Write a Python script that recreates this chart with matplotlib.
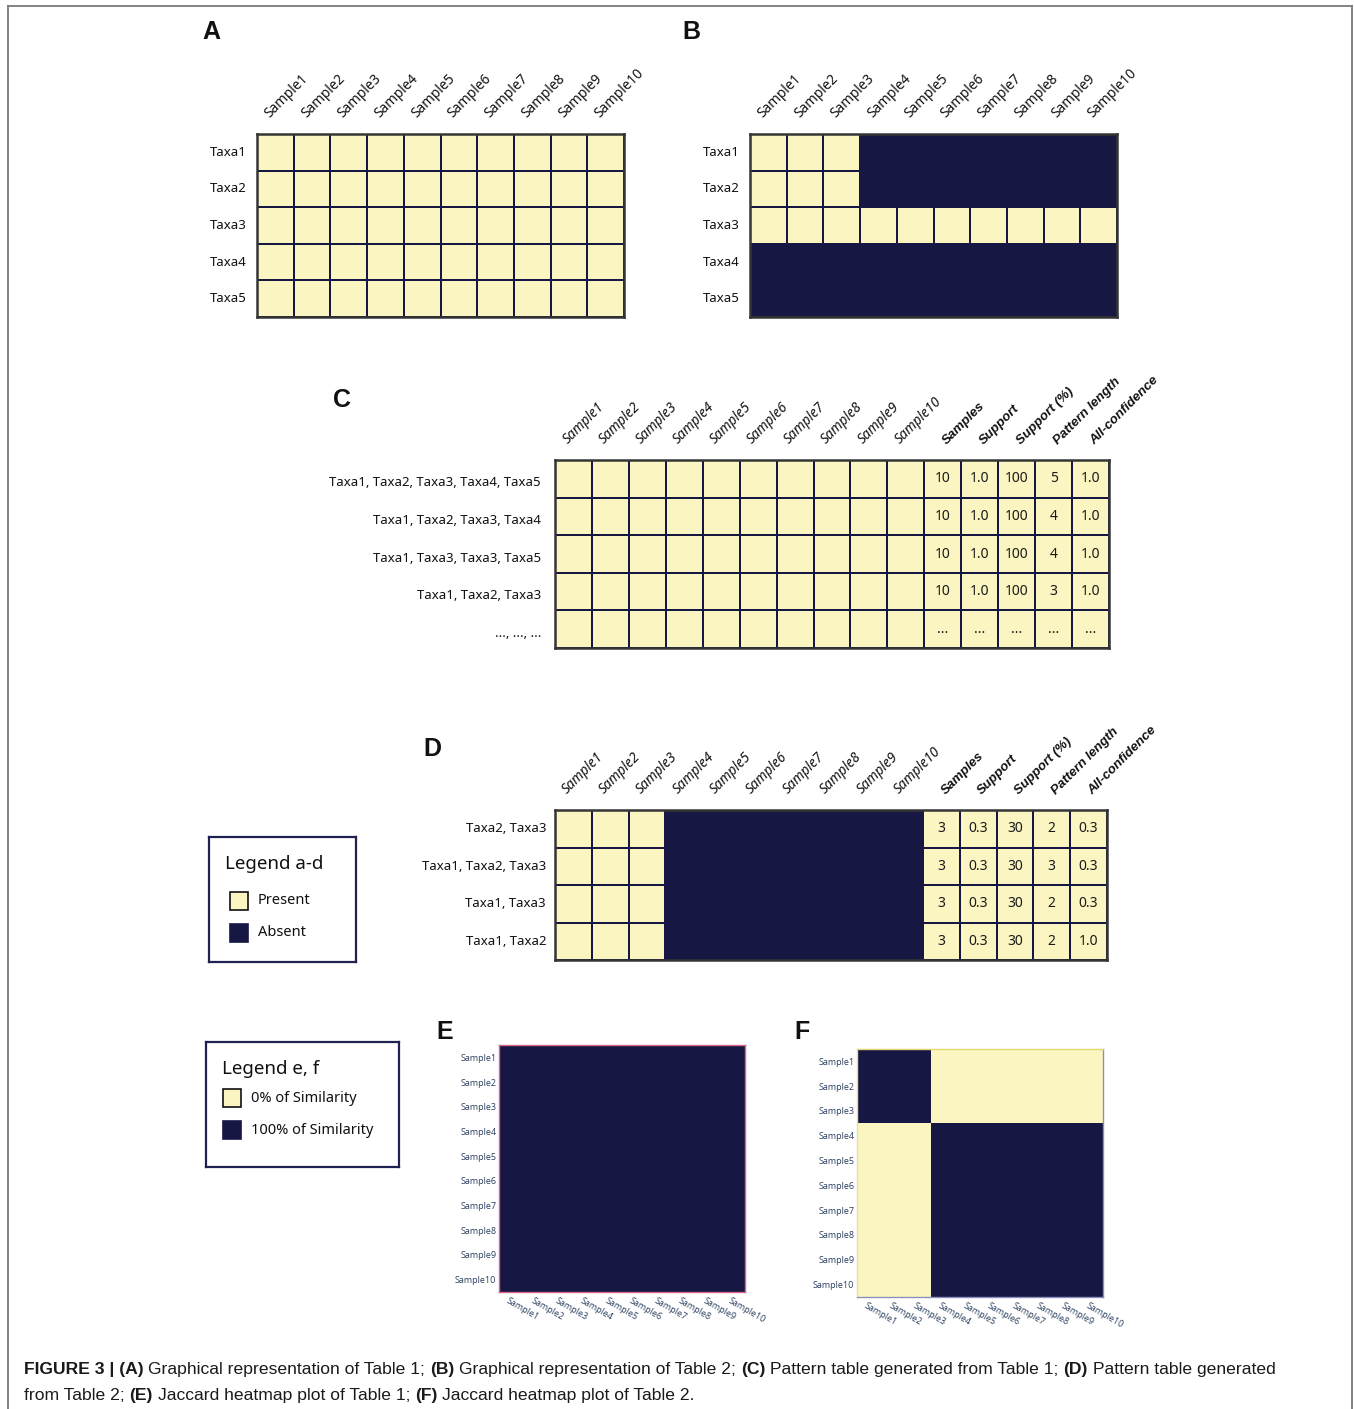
import numpy as np
import matplotlib
matplotlib.use("Agg")
import matplotlib.pyplot as plt
from matplotlib.colors import ListedColormap
from matplotlib.patches import Rectangle
from matplotlib.lines import Line2D

# ---------------------------------------------------------------- data
samples = ["Sample1", "Sample2", "Sample3", "Sample4", "Sample5",
           "Sample6", "Sample7", "Sample8", "Sample9", "Sample10"]
taxa = ["Taxa1", "Taxa2", "Taxa3", "Taxa4", "Taxa5"]

# presence (1) / absence (0) of each taxon in each sample
table1 = [[1, 1, 1, 1, 1, 1, 1, 1, 1, 1],
          [1, 1, 1, 1, 1, 1, 1, 1, 1, 1],
          [1, 1, 1, 1, 1, 1, 1, 1, 1, 1],
          [1, 1, 1, 1, 1, 1, 1, 1, 1, 1],
          [1, 1, 1, 1, 1, 1, 1, 1, 1, 1]]
table2 = [[1, 1, 1, 0, 0, 0, 0, 0, 0, 0],
          [1, 1, 1, 0, 0, 0, 0, 0, 0, 0],
          [1, 1, 1, 1, 1, 1, 1, 1, 1, 1],
          [0, 0, 0, 0, 0, 0, 0, 0, 0, 0],
          [0, 0, 0, 0, 0, 0, 0, 0, 0, 0]]

stat_headers = ["Samples", "Support", "Support (%)", "Pattern length", "All-confidence"]

# patterns mined from table 1
patterns_c = ["Taxa1, Taxa2, Taxa3, Taxa4, Taxa5", "Taxa1, Taxa2, Taxa3, Taxa4",
              "Taxa1, Taxa3, Taxa3, Taxa5", "Taxa1, Taxa2, Taxa3", "..., ..., ..."]
presence_c = [[1, 1, 1, 1, 1, 1, 1, 1, 1, 1],
              [1, 1, 1, 1, 1, 1, 1, 1, 1, 1],
              [1, 1, 1, 1, 1, 1, 1, 1, 1, 1],
              [1, 1, 1, 1, 1, 1, 1, 1, 1, 1],
              [1, 1, 1, 1, 1, 1, 1, 1, 1, 1]]
samples_c = [10, 10, 10, 10, None]
support_c = [1.0, 1.0, 1.0, 1.0, None]
support_pct_c = [100, 100, 100, 100, None]
length_c = [5, 4, 4, 3, None]
allconf_c = [1.0, 1.0, 1.0, 1.0, None]

# patterns mined from table 2
patterns_d = ["Taxa2, Taxa3", "Taxa1, Taxa2, Taxa3", "Taxa1, Taxa3", "Taxa1, Taxa2"]
presence_d = [[1, 1, 1, 0, 0, 0, 0, 0, 0, 0],
              [1, 1, 1, 0, 0, 0, 0, 0, 0, 0],
              [1, 1, 1, 0, 0, 0, 0, 0, 0, 0],
              [1, 1, 1, 0, 0, 0, 0, 0, 0, 0]]
samples_d = [3, 3, 3, 3]
support_d = [0.3, 0.3, 0.3, 0.3]
support_pct_d = [30, 30, 30, 30]
length_d = [2, 3, 2, 2]
allconf_d = [0.3, 0.3, 0.3, 1.0]

# Jaccard similarity between samples (1 = identical, 0 = disjoint)
jaccard_e = [[1] * 10 for _ in range(10)]
jaccard_f = [[1, 1, 1, 0, 0, 0, 0, 0, 0, 0],
             [1, 1, 1, 0, 0, 0, 0, 0, 0, 0],
             [1, 1, 1, 0, 0, 0, 0, 0, 0, 0],
             [0, 0, 0, 1, 1, 1, 1, 1, 1, 1],
             [0, 0, 0, 1, 1, 1, 1, 1, 1, 1],
             [0, 0, 0, 1, 1, 1, 1, 1, 1, 1],
             [0, 0, 0, 1, 1, 1, 1, 1, 1, 1],
             [0, 0, 0, 1, 1, 1, 1, 1, 1, 1],
             [0, 0, 0, 1, 1, 1, 1, 1, 1, 1],
             [0, 0, 0, 1, 1, 1, 1, 1, 1, 1]]

caption_lines = [
    [("FIGURE 3 | (A)", True), ("Graphical representation of Table 1;", False),
     ("(B)", True), ("Graphical representation of Table 2;", False),
     ("(C)", True), ("Pattern table generated from Table 1;", False),
     ("(D)", True), ("Pattern table generated", False)],
    [("from Table 2;", False), ("(E)", True), ("Jaccard heatmap plot of Table 1;", False),
     ("(F)", True), ("Jaccard heatmap plot of Table 2.", False)],
]

# ---------------------------------------------------------------- style
LIGHT = "#FBF6C1"
DARK = "#161843"
cmap = ListedColormap([LIGHT, DARK])
presence_cmap = ListedColormap([DARK, LIGHT])   # 0 = absent, 1 = present
SANS = ["Noto Sans", "DejaVu Sans"]
HEAD = ["Liberation Sans", "DejaVu Sans"]
PLOTLY_TXT = "#2a3f5f"

W, H = 1354, 1409
fig = plt.figure(figsize=(W / 100, H / 100), dpi=100)


def px_axes(x0, y0, x1, y1):
    return fig.add_axes([x0 / W, 1 - y1 / H, (x1 - x0) / W, (y1 - y0) / H])


def fig_text(x, y, s, **kw):
    return fig.text(x / W, 1 - y / H, s, **kw)


# outer frame
for xs, ys in [((8, 8), (6, H)), ((8, 1352), (6, 6)), ((1352, 1352), (6, H))]:
    fig.add_artist(Line2D([x / W for x in xs], [1 - y / H for y in ys],
                          color="#7a7a7a", lw=1.3, transform=fig.transFigure))


def fmt(v, nd):
    if v is None:
        return "..."
    return f"{v:.{nd}f}"


def grid_panel(box, presence, row_labels, col_labels, stats=None,
               row_dx=-10, row_dy=0, col_italic=False):
    ax = px_axes(*box)
    mat = np.array(presence, dtype=float)
    headers = list(col_labels)
    if stats is not None:
        mat = np.hstack([mat, np.ones((mat.shape[0], len(stats)))])
        headers = headers + stat_headers
    nrow, ncol = mat.shape
    ax.pcolormesh(np.arange(ncol + 1), np.arange(nrow + 1), mat, cmap=presence_cmap,
                  vmin=0, vmax=1, edgecolors=DARK, linewidth=1.3)
    ax.set_xlim(0, ncol)
    ax.set_ylim(nrow, 0)
    ax.set_xticks([])
    ax.set_yticks([])
    for sp in ax.spines.values():
        sp.set_color("#353535")
        sp.set_linewidth(1.8)
    for i, lbl in enumerate(row_labels):
        ax.annotate(lbl, xy=(0, i + 0.5), xytext=(row_dx, row_dy), textcoords="offset pixels",
                    ha="right", va="center", fontsize=9.5, family=SANS, color="#111")
    for j, lbl in enumerate(headers):
        if j >= len(col_labels):
            ax.annotate(lbl, xy=(j + 0.5, 0), xytext=(4, 15),
                        textcoords="offset pixels", rotation=45, rotation_mode="anchor",
                        ha="left", va="baseline", fontsize=9.5, family=HEAD, color="#111",
                        style="italic", fontweight="bold")
        else:
            ax.annotate(lbl, xy=(j + 0.5, 0), xytext=(-6, 16),
                        textcoords="offset pixels", rotation=45, rotation_mode="anchor",
                        ha="left", va="baseline", fontsize=9.8, family=SANS, color="#111",
                        style="italic" if col_italic else "normal")
    if stats is not None:
        nsamp = len(col_labels)
        for k, (vals, nd) in enumerate(stats):
            for i, v in enumerate(vals):
                ax.text(nsamp + k + 0.5, i + 0.5, fmt(v, nd), ha="center", va="center",
                        fontsize=10, family=SANS, color="#1a1a1a")
    return ax


# A and B: presence/absence of taxa
grid_panel((257, 134, 624, 317), table1, taxa, samples)
grid_panel((750, 134, 1117, 317), table2, taxa, samples)

# C and D: pattern tables
grid_panel((555, 460, 1109, 648), presence_c, patterns_c, samples,
           stats=[(samples_c, 0), (support_c, 1), (support_pct_c, 0), (length_c, 0), (allconf_c, 1)],
           row_dx=-14, row_dy=-4, col_italic=True)
grid_panel((555, 810, 1107, 960), presence_d, patterns_d, samples,
           stats=[(samples_d, 0), (support_d, 1), (support_pct_d, 0), (length_d, 0), (allconf_d, 1)],
           row_dx=-9, row_dy=0, col_italic=True)


# legends
def legend_box(box, title, items, sq_x, sq_y0, sq_dy, lbl_dx, title_y):
    x0, y0, x1, y1 = box
    ax = px_axes(*box)
    ax.set_xlim(0, x1 - x0)
    ax.set_ylim(y1 - y0, 0)
    ax.set_xticks([])
    ax.set_yticks([])
    for sp in ax.spines.values():
        sp.set_color("#1f2150")
        sp.set_linewidth(1.6)
    ax.text(16, title_y, title, ha="left", va="center", fontsize=13.5, family=SANS, color="#111")
    for k, (lbl, color) in enumerate(items):
        y = sq_y0 + k * sq_dy
        ax.add_patch(Rectangle((sq_x, y), 18, 18, facecolor=color,
                               edgecolor="#111" if color == LIGHT else color, lw=1.2))
        ax.text(sq_x + lbl_dx, y + 9, lbl, ha="left", va="center", fontsize=10.5,
                family=SANS, color="#111", fontweight="semibold")


legend_box((209, 837, 356, 962), "Legend a-d", [("Present", LIGHT), ("Absent", DARK)],
           sq_x=21, sq_y0=55, sq_dy=32, lbl_dx=28, title_y=27)
legend_box((206, 1042, 399, 1167), "Legend e, f",
           [("0% of Similarity", LIGHT), ("100% of Similarity", DARK)],
           sq_x=17, sq_y0=47, sq_dy=32, lbl_dx=28, title_y=27)


# E and F: Jaccard heatmaps
def heatmap(box, values, edge_colors):
    ax = px_axes(*box)
    mat = np.array(values, dtype=float)
    n = mat.shape[0]
    ax.pcolormesh(np.arange(n + 1), np.arange(n + 1), mat, cmap=cmap, vmin=0, vmax=1)
    ax.set_xlim(0, n)
    ax.set_ylim(n, 0)
    ax.set_xticks([])
    ax.set_yticks(np.arange(n) + 0.5)
    ax.set_yticklabels(samples, fontsize=6.5, family=["Open Sans", "DejaVu Sans"], color=PLOTLY_TXT)
    ax.tick_params(axis="y", length=0, pad=2)
    for side, c in edge_colors.items():
        ax.spines[side].set_color(c)
        ax.spines[side].set_linewidth(1.0)
    for j, lbl in enumerate(samples):
        ax.annotate(lbl, xy=(j + 0.5, n), xytext=(-2, -4), textcoords="offset pixels",
                    rotation=-30, rotation_mode="anchor", ha="left", va="top",
                    fontsize=6.5, family=["Open Sans", "DejaVu Sans"], color=PLOTLY_TXT)
    return ax


heatmap((499, 1045, 745, 1292), jaccard_e,
        {"left": "#d9668a", "top": "#d9668a", "right": "#d9668a", "bottom": "#d9668a"})
heatmap((857, 1049, 1103, 1297), jaccard_f,
        {"left": "#e6e0a0", "top": "#e2d870", "right": "#8a90bb", "bottom": "#8a90bb"})

# panel letters
for letter, (x, y) in zip("ABCDEF", [(211, 32), (691, 32), (342, 400), (432, 749),
                                       (445, 1032), (802, 1032)]):
    fig_text(x, y, letter, ha="center", va="center", fontsize=18, fontweight="bold",
             family=["Liberation Sans", "DejaVu Sans"], color="#111")

# caption, drawn run by run so bold and regular segments sit side by side
renderer = fig.canvas.get_renderer()
CAP_FONT = ["Liberation Sans", "DejaVu Sans"]
CAP_SIZE = 12.6


def text_width(s, bold):
    t = fig_text(0, 0, s, fontsize=CAP_SIZE, family=CAP_FONT, fontweight="bold" if bold else "normal")
    w = t.get_window_extent(renderer).width
    t.remove()
    return w


space_w = text_width("a a", False) - text_width("aa", False)
for line, y in zip(caption_lines, [1374, 1400]):
    x = 24
    for s, bold in line:
        t = fig_text(x, y, s, fontsize=CAP_SIZE, family=CAP_FONT, va="baseline", ha="left",
                     fontweight="bold" if bold else "normal", color="#1a1a1a")
        x += t.get_window_extent(renderer).width + space_w

fig.savefig("out.png", dpi=100, facecolor="white")
